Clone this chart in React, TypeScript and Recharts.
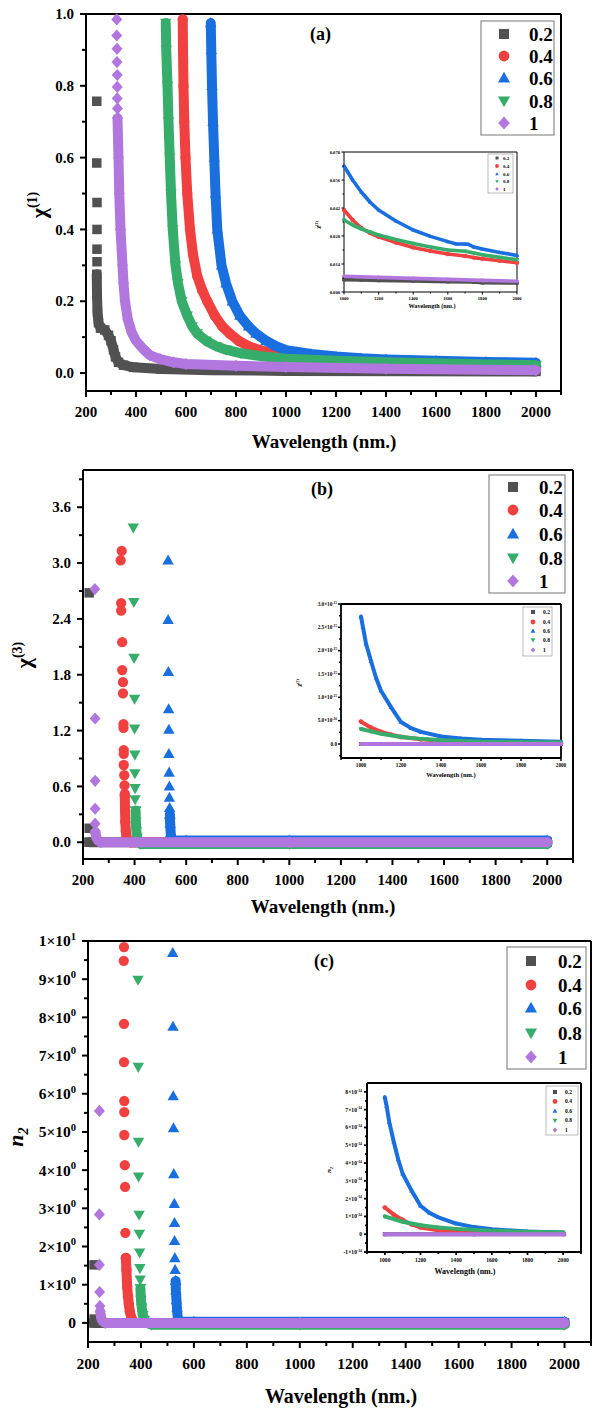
import React from 'react';
import { ScatterChart, Scatter, XAxis, YAxis, ReferenceLine } from 'recharts';

type Pt = [number, number];

const FONT = '"Liberation Serif", "Times New Roman", serif';

const seriesNames = ['0.2', '0.4', '0.6', '0.8', '1'];
const seriesColors = ['#515151', '#F14040', '#1A6FDF', '#37AD6B', '#B177DE'];
const seriesShapes = ['square', 'circle', 'up', 'down', 'diamond'];

// tick positions
const xTicksMain = [200, 300, 400, 500, 600, 700, 800, 900, 1000, 1100, 1200, 1300, 1400, 1500, 1600, 1700, 1800, 1900, 2000, 2100];
const yTicksA = [0, 0.1, 0.2, 0.3, 0.4, 0.5, 0.6, 0.7, 0.8, 0.9, 1.0];
const yTicksB = [0, 0.3, 0.6, 0.9, 1.2, 1.5, 1.8, 2.1, 2.4, 2.7, 3.0, 3.3, 3.6, 3.9];
const yTicksC = [0, 0.5, 1, 1.5, 2, 2.5, 3, 3.5, 4, 4.5, 5, 5.5, 6, 6.5, 7, 7.5, 8, 8.5, 9, 9.5, 10];
const xTicksInA = [1000, 1100, 1200, 1300, 1400, 1500, 1600, 1700, 1800, 1900, 2000];
const yTicksInA = [0, 0.007, 0.014, 0.021, 0.028, 0.035, 0.042, 0.049, 0.056, 0.063, 0.07];
const xTicksInB = [900, 1000, 1100, 1200, 1300, 1400, 1500, 1600, 1700, 1800, 1900, 2000];
const yTicksInB = [-0.25, 0, 0.25, 0.5, 0.75, 1, 1.25, 1.5, 1.75, 2, 2.25, 2.5, 2.75, 3];
const xTicksInC = [900, 1000, 1100, 1200, 1300, 1400, 1500, 1600, 1700, 1800, 1900, 2000, 2100];
const yTicksInC = [-1, -0.5, 0, 0.5, 1, 1.5, 2, 2.5, 3, 3.5, 4, 4.5, 5, 5.5, 6, 6.5, 7, 7.5, 8];

// ---- panel (a): chi(1) ----
const aBlackPts: Pt[] = [[243, 0.757], [243, 0.585], [244, 0.475], [244, 0.4], [244, 0.345], [244, 0.31]];
const aBlackBand: Pt[] = [[243, 0.275], [244, 0.22], [246, 0.17], [250, 0.14], [258, 0.125], [275, 0.12], [290, 0.105], [300, 0.09], [310, 0.065], [318, 0.045], [330, 0.03], [350, 0.022], [390, 0.016], [500, 0.011], [700, 0.008], [1000, 0.006], [1500, 0.005], [2000, 0.0045]];
const aRedBand: Pt[] = [[587, 0.985], [588, 0.9], [590, 0.8], [593, 0.7], [598, 0.6], [605, 0.5], [616, 0.4], [628, 0.33], [645, 0.27], [665, 0.23], [685, 0.2], [715, 0.16], [745, 0.13], [775, 0.11], [810, 0.09], [850, 0.075], [900, 0.063], [970, 0.05], [1000, 0.045], [1200, 0.031], [1400, 0.025], [1600, 0.021], [1800, 0.018], [2000, 0.016]];
const aBlueBand: Pt[] = [[699, 0.975], [701, 0.9], [704, 0.8], [708, 0.7], [713, 0.6], [718, 0.5], [725, 0.4], [742, 0.3], [760, 0.25], [785, 0.2], [815, 0.16], [850, 0.13], [880, 0.11], [920, 0.09], [960, 0.075], [1000, 0.064], [1100, 0.053], [1200, 0.046], [1300, 0.041], [1400, 0.038], [1600, 0.034], [1800, 0.031], [2000, 0.029]];
const aGreenBand: Pt[] = [[519, 0.975], [521, 0.9], [526, 0.8], [530, 0.7], [535, 0.6], [540, 0.5], [547, 0.4], [558, 0.3], [568, 0.25], [583, 0.2], [605, 0.16], [625, 0.13], [645, 0.11], [680, 0.09], [720, 0.075], [760, 0.065], [820, 0.055], [900, 0.047], [1000, 0.04], [1200, 0.034], [1400, 0.03], [1600, 0.027], [1800, 0.024], [2000, 0.022]];
const aPurplePts: Pt[] = [[323, 0.985], [323, 0.94], [324, 0.903], [324, 0.866], [325, 0.83], [325, 0.797], [325, 0.765], [326, 0.737]];
const aPurpleBand: Pt[] = [[326, 0.71], [330, 0.6], [333, 0.5], [338, 0.4], [346, 0.3], [350, 0.25], [356, 0.2], [367, 0.15], [383, 0.113], [400, 0.09], [429, 0.067], [455, 0.05], [496, 0.039], [550, 0.03], [600, 0.025], [800, 0.02], [1000, 0.017], [1400, 0.012], [2000, 0.008]];

// inset (a)
const iaBlack: Pt[] = [[1000, 0.0062], [1100, 0.006], [1200, 0.0058], [1400, 0.0055], [1600, 0.0052], [1750, 0.005], [1800, 0.0046], [2000, 0.0045]];
const iaRed: Pt[] = [[1000, 0.041], [1050, 0.036], [1100, 0.032], [1150, 0.0295], [1200, 0.0276], [1300, 0.0247], [1400, 0.0223], [1500, 0.0205], [1600, 0.019], [1700, 0.018], [1750, 0.0172], [1800, 0.0166], [1900, 0.0156], [2000, 0.0146]];
const iaBlue: Pt[] = [[1000, 0.063], [1050, 0.056], [1100, 0.05], [1150, 0.045], [1200, 0.041], [1300, 0.0355], [1400, 0.031], [1500, 0.0278], [1600, 0.0252], [1650, 0.024], [1700, 0.024], [1720, 0.0238], [1750, 0.0225], [1800, 0.0215], [1900, 0.0198], [2000, 0.0183]];
const iaGreen: Pt[] = [[1000, 0.036], [1050, 0.0335], [1100, 0.0315], [1150, 0.03], [1200, 0.0285], [1300, 0.0262], [1400, 0.0243], [1500, 0.0225], [1600, 0.021], [1700, 0.0204], [1750, 0.0195], [1800, 0.0186], [1900, 0.0173], [2000, 0.0162]];
const iaPurple: Pt[] = [[1000, 0.0079], [1200, 0.0073], [1400, 0.0068], [1600, 0.0063], [1800, 0.0058], [2000, 0.0054]];

// ---- panel (b): chi(3) ----
const bBlackPts: Pt[] = [[224, 2.68], [224, 0.15], [224, 0.0]];
const bBlackBand: Pt[] = [[224, 0], [400, 0], [1000, 0], [2000, 0]];
const bRedPts: Pt[] = [[350, 3.13], [346, 3.03], [348, 2.57], [348, 2.49], [352, 2.15], [352, 1.85], [355, 1.72], [355, 1.6], [357, 1.27], [357, 1.23], [358, 0.99], [358, 0.95], [358, 0.83], [360, 0.72], [361, 0.61], [362, 0.52]];
const bRedBand: Pt[] = [[362, 0.5], [363, 0.35], [364, 0.22], [366, 0.12], [369, 0.05], [374, 0.01], [385, 0], [1000, 0], [2000, 0]];
const bBluePts: Pt[] = [[530, 3.03], [530, 2.39], [531, 1.83], [532, 1.43], [533, 1.21], [533, 0.95], [534, 0.75], [535, 0.6], [535, 0.48], [536, 0.37], [537, 0.3]];
const bBlueBand: Pt[] = [[537, 0.3], [538, 0.2], [540, 0.1], [543, 0.04], [548, 0.02], [600, 0.02], [1000, 0.02], [2000, 0.02]];
const bGreenPts: Pt[] = [[395, 3.38], [397, 2.58], [398, 1.98], [400, 1.54], [400, 1.22], [401, 0.94], [401, 0.74], [402, 0.58], [402, 0.46], [404, 0.34]];
const bGreenBand: Pt[] = [[404, 0.34], [405, 0.22], [407, 0.12], [410, 0.05], [415, 0.0], [425, -0.02], [1000, -0.02], [2000, -0.02]];
const bPurplePts: Pt[] = [[246, 2.72], [247, 1.33], [247, 0.66], [247, 0.36], [247, 0.2], [248, 0.12]];
const bPurpleBand: Pt[] = [[248, 0.1], [252, 0.05], [258, 0.02], [268, 0], [400, 0], [1000, 0], [2000, 0]];

// inset (b), units of 1e-15
const ibBlack: Pt[] = [[1000, 0], [1500, 0], [2000, 0]];
const ibRed: Pt[] = [[1000, 0.48], [1050, 0.35], [1100, 0.26], [1150, 0.2], [1200, 0.15], [1300, 0.1], [1400, 0.07], [1600, 0.04], [2000, 0.02]];
const ibBlue: Pt[] = [[1000, 2.73], [1010, 2.5], [1025, 2.15], [1050, 1.78], [1075, 1.42], [1100, 1.14], [1150, 0.79], [1200, 0.47], [1250, 0.34], [1300, 0.26], [1400, 0.16], [1500, 0.12], [1600, 0.09], [1800, 0.07], [2000, 0.05]];
const ibGreen: Pt[] = [[1000, 0.32], [1050, 0.27], [1100, 0.22], [1200, 0.15], [1300, 0.11], [1400, 0.08], [1600, 0.05], [1800, 0.04], [2000, 0.03]];
const ibPurple: Pt[] = [[1000, 0], [1500, 0], [2000, 0]];

// ---- panel (c): n2 ----
const cBlackPts: Pt[] = [[223, 1.52], [223, 0.1], [223, 0.0]];
const cBlackBand: Pt[] = [[223, 0], [600, 0], [2000, 0]];
const cRedPts: Pt[] = [[336, 9.84], [335, 9.48], [336, 7.83], [336, 6.83], [337, 5.81], [337, 5.52], [337, 4.92], [339, 4.13], [340, 3.56], [341, 2.36], [343, 1.7]];
const cRedBand: Pt[] = [[343, 1.7], [345, 1.4], [348, 0.95], [351, 0.7], [354, 0.5], [358, 0.3], [363, 0.15], [370, 0.05], [380, 0], [1000, 0], [2000, 0]];
const cBluePts: Pt[] = [[520, 9.69], [521, 7.76], [522, 5.94], [523, 5.1], [524, 3.9], [526, 3.12], [527, 2.62], [527, 2.15], [528, 1.7], [529, 1.39], [531, 1.1]];
const cBlueBand: Pt[] = [[531, 1.1], [532, 0.85], [534, 0.6], [536, 0.4], [538, 0.2], [541, 0.08], [546, 0.03], [600, 0.03], [2000, 0.03]];
const cGreenPts: Pt[] = [[389, 8.98], [390, 6.7], [391, 4.74], [391, 3.83], [393, 2.83], [394, 2.33], [395, 1.84], [396, 1.43], [397, 1.13], [398, 0.9]];
const cGreenBand: Pt[] = [[398, 0.9], [400, 0.6], [403, 0.4], [407, 0.2], [413, 0.08], [425, 0], [440, -0.05], [1000, -0.05], [2000, -0.05]];
const cPurplePts: Pt[] = [[243, 5.55], [243, 2.84], [243, 1.52], [244, 0.81], [245, 0.44]];
const cPurpleBand: Pt[] = [[246, 0.3], [250, 0.12], [256, 0.04], [265, 0], [1000, 0], [2000, 0]];

// inset (c), units of 1e-14
const icBlack: Pt[] = [[1000, 0], [1500, 0], [2005, 0]];
const icRed: Pt[] = [[1000, 1.5], [1050, 1.1], [1100, 0.8], [1150, 0.55], [1200, 0.38], [1300, 0.22], [1400, 0.14], [1600, 0.08], [2000, 0.04]];
const icBlue: Pt[] = [[1000, 7.7], [1010, 7.2], [1025, 6.3], [1050, 5.2], [1075, 4.2], [1100, 3.4], [1150, 2.45], [1200, 1.6], [1250, 1.2], [1300, 0.95], [1400, 0.6], [1500, 0.4], [1600, 0.28], [1800, 0.15], [2000, 0.1]];
const icGreen: Pt[] = [[1000, 1.0], [1050, 0.85], [1100, 0.7], [1200, 0.5], [1300, 0.38], [1400, 0.3], [1600, 0.2], [1800, 0.14], [2000, 0.1]];
const icPurple: Pt[] = [[1000, 0], [1500, 0], [2005, 0]];

const toXY = (a: Pt[]) => a.map(([x, y]) => ({ x, y }));
const isMul = (v: number, step: number) => Math.abs(v / step - Math.round(v / step)) < 1e-6;

function Marker({ kind, cx, cy, s, fill }: { kind: string; cx: number; cy: number; s: number; fill: string }) {
  const h = s / 2;
  if (kind === 'square') return <rect x={cx - h} y={cy - h} width={s} height={s} fill={fill} />;
  if (kind === 'circle') return <circle cx={cx} cy={cy} r={h + 0.4} fill={fill} />;
  if (kind === 'up')
    return <polygon points={`${cx},${cy - s * 0.62} ${cx - s * 0.6},${cy + s * 0.44} ${cx + s * 0.6},${cy + s * 0.44}`} fill={fill} />;
  if (kind === 'down')
    return <polygon points={`${cx},${cy + s * 0.62} ${cx - s * 0.6},${cy - s * 0.44} ${cx + s * 0.6},${cy - s * 0.44}`} fill={fill} />;
  return <polygon points={`${cx},${cy - s * 0.64} ${cx + s * 0.58},${cy} ${cx},${cy + s * 0.64} ${cx - s * 0.58},${cy}`} fill={fill} />;
}

const markerShape = (i: number, s: number) => (p: any) => (
  <Marker kind={seriesShapes[i]} cx={p.cx} cy={p.cy} s={s} fill={seriesColors[i]} />
);

const sci = (mant: string, exp: string, font: number) => (
  <>
    {mant}×10
    <tspan dy={-font * 0.42} fontSize={font * 0.68}>{exp}</tspan>
  </>
);

type TickOpt = {
  major: (v: number) => boolean;
  fmt: (v: number) => React.ReactNode;
  font: number;
  long: number;
  short: number;
  sw: number;
  gap: number;
};

const bottomTick = (o: TickOpt) => (p: any) => {
  const v = p.payload.value;
  const m = o.major(v);
  return (
    <g>
      <line x1={p.x} x2={p.x} y1={p.y} y2={p.y + (m ? o.long : o.short)} stroke="#000" strokeWidth={o.sw} />
      {m && (
        <text x={p.x} y={p.y + o.gap} textAnchor="middle" fontFamily={FONT} fontWeight="bold" fontSize={o.font} fill="#000">
          {o.fmt(v)}
        </text>
      )}
    </g>
  );
};

const leftTick = (o: TickOpt) => (p: any) => {
  const v = p.payload.value;
  const m = o.major(v);
  return (
    <g>
      <line x1={p.x - (m ? o.long : o.short)} x2={p.x} y1={p.y} y2={p.y} stroke="#000" strokeWidth={o.sw} />
      {m && (
        <text x={p.x - o.gap} y={p.y + o.font * 0.35} textAnchor="end" fontFamily={FONT} fontWeight="bold" fontSize={o.font} fill="#000">
          {o.fmt(v)}
        </text>
      )}
    </g>
  );
};

type PlotCfg = {
  left: number;
  top: number;
  width: number;
  height: number;
  margin: { top: number; right: number; bottom: number; left: number };
  yW: number;
  xH: number;
  xDomain: [number, number];
  yDomain: [number, number];
  xTicks: number[];
  yTicks: number[];
  xTick: any;
  yTick: any;
  axisW: number;
  bands: Pt[][];
  pts: Pt[][];
  bandW: number;
  mSize: number;
};

function Plot({ c }: { c: PlotCfg }) {
  const layers: React.ReactNode[] = [];
  c.bands.forEach((band, i) => {
    layers.push(
      <Scatter
        key={'band' + i}
        data={toXY(band)}
        fill={seriesColors[i]}
        line={{ stroke: seriesColors[i], strokeWidth: c.bandW, strokeLinecap: 'round', strokeLinejoin: 'round' }}
        lineType="joint"
        shape={markerShape(i, c.mSize)}
        isAnimationActive={false}
      />
    );
    if (c.pts[i].length)
      layers.push(
        <Scatter key={'pts' + i} data={toXY(c.pts[i])} fill={seriesColors[i]} shape={markerShape(i, c.mSize)} isAnimationActive={false} />
      );
  });
  return (
    <div style={{ position: 'absolute', left: c.left, top: c.top, width: c.width, height: c.height }}>
      <ScatterChart width={c.width} height={c.height} margin={c.margin}>
        <XAxis
          type="number"
          dataKey="x"
          domain={c.xDomain}
          ticks={c.xTicks}
          interval={0}
          tick={c.xTick}
          tickLine={false}
          tickSize={0}
          tickMargin={0}
          height={c.xH}
          axisLine={{ stroke: '#000', strokeWidth: c.axisW }}
        />
        <YAxis
          type="number"
          dataKey="y"
          domain={c.yDomain}
          ticks={c.yTicks}
          interval={0}
          tick={c.yTick}
          tickLine={false}
          tickSize={0}
          tickMargin={0}
          width={c.yW}
          axisLine={{ stroke: '#000', strokeWidth: c.axisW }}
        />
        <ReferenceLine y={c.yDomain[1]} stroke="#000" strokeWidth={c.axisW} />
        <ReferenceLine x={c.xDomain[1]} stroke="#000" strokeWidth={c.axisW} />
        {layers}
      </ScatterChart>
    </div>
  );
}

const mainX = bottomTick({ major: (v) => isMul(v, 200), fmt: (v) => String(v), font: 15, long: 6, short: 4, sw: 2, gap: 26 });

const plotA: PlotCfg = {
  left: 0, top: 0, width: 593, height: 470,
  margin: { top: 14, right: 32, bottom: 0, left: 0 }, yW: 86, xH: 79,
  xDomain: [200, 2100], yDomain: [-0.05, 1.0], xTicks: xTicksMain, yTicks: yTicksA,
  xTick: mainX,
  yTick: leftTick({ major: (v) => isMul(v, 0.2), fmt: (v) => v.toFixed(1), font: 15, long: 6, short: 4, sw: 2, gap: 12 }),
  axisW: 2,
  bands: [aBlackBand, aRedBand, aBlueBand, aGreenBand, aPurpleBand],
  pts: [aBlackPts, [], [], [], aPurplePts],
  bandW: 10, mSize: 9.5,
};

const plotB: PlotCfg = {
  left: 0, top: 456, width: 593, height: 470,
  margin: { top: 14, right: 20, bottom: 0, left: 0 }, yW: 83, xH: 67,
  xDomain: [200, 2100], yDomain: [-0.18, 4.0], xTicks: xTicksMain, yTicks: yTicksB,
  xTick: mainX,
  yTick: leftTick({ major: (v) => isMul(v, 0.6), fmt: (v) => v.toFixed(1), font: 15, long: 6, short: 4, sw: 2, gap: 12 }),
  axisW: 2,
  bands: [bBlackBand, bRedBand, bBlueBand, bGreenBand, bPurpleBand],
  pts: [bBlackPts, bRedPts, bBluePts, bGreenPts, bPurplePts],
  bandW: 10, mSize: 9.5,
};

const plotC: PlotCfg = {
  left: 0, top: 927, width: 593, height: 483,
  margin: { top: 14, right: 2, bottom: 0, left: 0 }, yW: 88, xH: 68,
  xDomain: [200, 2100], yDomain: [-0.5, 10], xTicks: xTicksMain, yTicks: yTicksC,
  xTick: bottomTick({ major: (v) => isMul(v, 200), fmt: (v) => String(v), font: 15.5, long: 6, short: 4, sw: 2, gap: 27 }),
  yTick: leftTick({
    major: (v) => isMul(v, 1),
    fmt: (v) => (v === 0 ? '0' : v === 10 ? sci('1', '1', 15.5) : sci(String(v), '0', 15.5)),
    font: 15.5, long: 6, short: 4, sw: 2, gap: 12,
  }),
  axisW: 2,
  bands: [cBlackBand, cRedBand, cBlueBand, cGreenBand, cPurpleBand],
  pts: [cBlackPts, cRedPts, cBluePts, cGreenPts, cPurplePts],
  bandW: 10, mSize: 9.5,
};

const insetA: PlotCfg = {
  left: 300, top: 140, width: 230, height: 175,
  margin: { top: 12, right: 13, bottom: 0, left: 0 }, yW: 44, xH: 23,
  xDomain: [1000, 2000], yDomain: [0, 0.07], xTicks: xTicksInA, yTicks: yTicksInA,
  xTick: bottomTick({ major: (v) => isMul(v, 200), fmt: (v) => String(v), font: 4.6, long: 2.5, short: 1.5, sw: 1, gap: 8 }),
  yTick: leftTick({ major: (v) => isMul(v, 0.014), fmt: (v) => v.toFixed(3), font: 4.6, long: 2.5, short: 1.5, sw: 1, gap: 4 }),
  axisW: 1,
  bands: [iaBlack, iaRed, iaBlue, iaGreen, iaPurple],
  pts: [[], [], [], [], []],
  bandW: 3.6, mSize: 3.6,
};

const insetB: PlotCfg = {
  left: 290, top: 595, width: 280, height: 185,
  margin: { top: 9, right: 9, bottom: 0, left: 0 }, yW: 51, xH: 22,
  xDomain: [900, 2000], yDomain: [-0.3, 3.0], xTicks: xTicksInB, yTicks: yTicksInB,
  xTick: bottomTick({ major: (v) => isMul(v, 200), fmt: (v) => String(v), font: 5.2, long: 3, short: 2, sw: 1.5, gap: 9 }),
  yTick: leftTick({
    major: (v) => isMul(v, 0.5),
    fmt: (v) => (v === 0 ? '0.0' : v === 0.5 ? sci('5.0', '-16', 5.2) : sci(v.toFixed(1), '-15', 5.2)),
    font: 5.2, long: 3, short: 2, sw: 1.5, gap: 4,
  }),
  axisW: 1.8,
  bands: [ibBlack, ibRed, ibBlue, ibGreen, ibPurple],
  pts: [[], [], [], [], []],
  bandW: 4, mSize: 4,
};

const insetC: PlotCfg = {
  left: 320, top: 1075, width: 270, height: 205,
  margin: { top: 8, right: 9, bottom: 0, left: 0 }, yW: 47, xH: 28,
  xDomain: [900, 2100], yDomain: [-1, 8.5], xTicks: xTicksInC, yTicks: yTicksInC,
  xTick: bottomTick({ major: (v) => isMul(v, 200), fmt: (v) => String(v), font: 5.6, long: 3, short: 2, sw: 1.8, gap: 9.5 }),
  yTick: leftTick({
    major: (v) => isMul(v, 1),
    fmt: (v) => (v === 0 ? '0' : sci(String(v), '-14', 5.6)),
    font: 5.6, long: 3, short: 2, sw: 1.8, gap: 5,
  }),
  axisW: 2,
  bands: [icBlack, icRed, icBlue, icGreen, icPurple],
  pts: [[], [], [], [], []],
  bandW: 4, mSize: 4,
};

function LegendBox({ box, ys, mx, tx, ms, font }: { box: number[]; ys: number[]; mx: number; tx: number; ms: number; font: number }) {
  return (
    <g>
      <rect x={box[0]} y={box[1]} width={box[2] - box[0]} height={box[3] - box[1]} fill="#fff" stroke="#8c8c8c" strokeWidth={font > 10 ? 1.2 : 0.6} />
      {seriesNames.map((n, i) => (
        <g key={n}>
          <Marker kind={seriesShapes[i]} cx={mx} cy={ys[i]} s={ms} fill={seriesColors[i]} />
          <text x={tx} y={ys[i] + font * 0.35} fontFamily={FONT} fontWeight="bold" fontSize={font} fill="#000">
            {n}
          </text>
        </g>
      ))}
    </g>
  );
}

const T = (props: any) => <text fontFamily={FONT} fontWeight="bold" fill="#000" {...props} />;

function Overlay() {
  return (
    <svg width={593} height={1410} style={{ position: 'absolute', left: 0, top: 0, pointerEvents: 'none' }}>
      {/* panel (a) */}
      <T x={310} y={40} fontSize={18}>(a)</T>
      <T x={324} y={448} fontSize={19} textAnchor="middle">Wavelength (nm.)</T>
      <T transform="translate(46,205) rotate(-90)" fontSize={22} textAnchor="middle">
        χ<tspan dy={-9} fontSize={14}>(1)</tspan>
      </T>
      <LegendBox box={[481, 21, 554, 135]} ys={[34, 56, 78, 101, 123]} mx={504} tx={529} ms={10} font={19} />
      <T x={432} y={308} fontSize={6.2} textAnchor="middle">Wavelength (nm.)</T>
      <T transform="translate(320,225) rotate(-90)" fontSize={6.5} textAnchor="middle">
        χ<tspan dy={-2.5} fontSize={4}>(1)</tspan>
      </T>
      <LegendBox box={[488, 154, 513, 193]} ys={[158, 166, 174, 181.5, 189]} mx={497} tx={503} ms={3} font={5} />

      {/* panel (b) */}
      <T x={311} y={495} fontSize={18}>(b)</T>
      <T x={323} y={913} fontSize={19} textAnchor="middle">Wavelength (nm.)</T>
      <T transform="translate(31,655) rotate(-90)" fontSize={22} textAnchor="middle">
        χ<tspan dy={-9} fontSize={14}>(3)</tspan>
      </T>
      <LegendBox box={[489, 475, 565, 593]} ys={[487, 510, 534, 558, 581]} mx={513} tx={539} ms={10} font={19} />
      <T x={451} y={777} fontSize={6.5} textAnchor="middle">Wavelength (nm.)</T>
      <T transform="translate(301,683) rotate(-90)" fontSize={6.5} textAnchor="middle">
        χ<tspan dy={-2.5} fontSize={4}>(3)</tspan>
      </T>
      <LegendBox box={[523, 607, 552, 656]} ys={[612, 622, 631, 640, 650]} mx={533} tx={543} ms={4} font={5.5} />

      {/* panel (c) */}
      <T x={314} y={967} fontSize={18}>(c)</T>
      <T x={341} y={1403} fontSize={20} textAnchor="middle">Wavelength (nm.)</T>
      <T transform="translate(23,1137) rotate(-90)" fontSize={22} textAnchor="middle" fontStyle="italic">
        n<tspan dy={5} fontSize={14}>2</tspan>
      </T>
      <LegendBox box={[507, 947, 586, 1069]} ys={[961, 985, 1008, 1033, 1057]} mx={531} tx={558} ms={10} font={19} />
      <T x={465} y={1274} fontSize={8} textAnchor="middle">Wavelength (nm.)</T>
      <T transform="translate(331,1170) rotate(-90)" fontSize={7} textAnchor="middle" fontStyle="italic">
        n<tspan dy={1.5} fontSize={4.5}>2</tspan>
      </T>
      <LegendBox box={[546, 1086, 578, 1135]} ys={[1092, 1101.5, 1111, 1120.5, 1130]} mx={555} tx={565} ms={4} font={5.5} />
    </svg>
  );
}

export default function App() {
  return (
    <div style={{ position: 'absolute', left: 0, top: 0, width: 593, height: 1410, background: '#fff', overflow: 'hidden' }}>
      <Plot c={plotA} />
      <Plot c={plotB} />
      <Plot c={plotC} />
      <Plot c={insetA} />
      <Plot c={insetB} />
      <Plot c={insetC} />
      <Overlay />
    </div>
  );
}
